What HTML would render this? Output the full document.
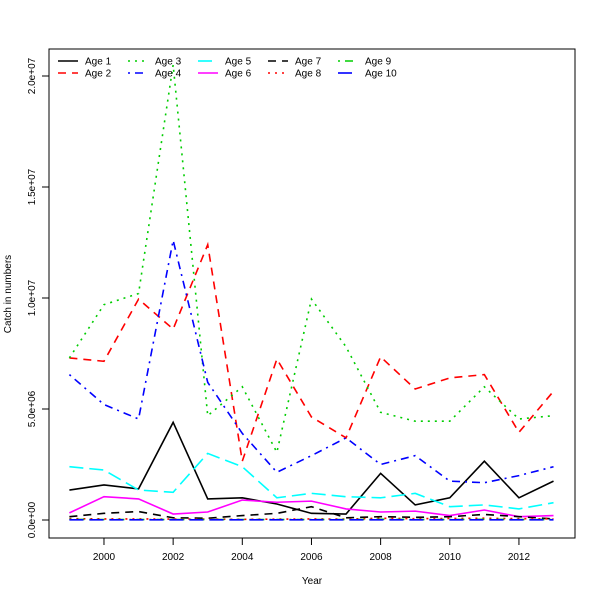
<!DOCTYPE html>
<html><head><meta charset="utf-8"><style>body{margin:0;background:#fff}svg{display:block;font-family:"Liberation Sans",sans-serif}</style></head>
<body>
<svg id="chart" width="600" height="600" xmlns="http://www.w3.org/2000/svg">
<rect width="600" height="600" fill="#fff"/>
<g id="plot"></g>
</svg>
<script>
const years = [1999,2000,2001,2002,2003,2004,2005,2006,2007,2008,2009,2010,2011,2012,2013];
const age1 = [1.35,1.58,1.4,4.4,0.95,1.0,0.72,0.3,0.27,2.1,0.68,1.0,2.65,1.0,1.75];
const age2 = [7.3,7.15,9.95,8.6,12.4,2.65,7.25,4.64,3.7,7.35,5.9,6.4,6.55,3.95,5.8];
const age3 = [7.3,9.7,10.2,20.5,4.7,6.0,3.05,9.95,7.8,4.85,4.45,4.45,6.0,4.55,4.7];
const age4 = [6.55,5.2,4.55,12.6,6.2,3.9,2.15,2.9,3.7,2.5,2.9,1.75,1.68,2.0,2.4];
const age5 = [2.4,2.25,1.35,1.25,3.0,2.4,1.0,1.2,1.05,1.0,1.2,0.6,0.68,0.5,0.78];
const age6 = [0.32,1.05,0.95,0.27,0.36,0.9,0.8,0.85,0.5,0.36,0.4,0.2,0.45,0.15,0.2];
const age7 = [0.15,0.3,0.38,0.1,0.08,0.2,0.3,0.6,0.1,0.15,0.12,0.15,0.25,0.15,0.05];
const age8 = [0.06,0.05,0.05,0.04,0.04,0.03,0.04,0.05,0.04,0.08,0.06,0.07,0.08,0.06,0.05];
const age9 = [0.03,0.02,0.02,0.02,0.02,0.02,0.02,0.02,0.02,0.03,0.02,0.02,0.03,0.02,0.02];
const age10 = [0.01,0.01,0.01,0.01,0.01,0.01,0.01,0.01,0.01,0.01,0.01,0.01,0.01,0.01,0.01];
const seriesNames = ["Age 1","Age 2","Age 3","Age 4","Age 5","Age 6","Age 7","Age 8","Age 9","Age 10"];
const xTicks = [2000,2002,2004,2006,2008,2010,2012];
const yTicks = [0,5,10,15,20];
const yTickLabels = ["0.0e+00","5.0e+06","1.0e+07","1.5e+07","2.0e+07"];

const NS="http://www.w3.org/2000/svg";
const g=document.getElementById('plot');
const X=y=>69.4+(y-1999)*34.58;
const Y=v=>520-v*22.2;
function mk(t,a){const e=document.createElementNS(NS,t);for(const k in a)e.setAttribute(k,a[k]);g.appendChild(e);return e;}
const data=[age1,age2,age3,age4,age5,age6,age7,age8,age9,age10];
const cols=["#000","#FF0000","#00CD00","#0000FF","#00FFFF","#FF00FF","#000","#FF0000","#00CD00","#0000FF"];
const dash=["","8,6","2,5","2,5,8,5","14,6","","8,6","2,5","2,5,8,5","14,6"];
const box=mk('rect',{x:49,y:49,width:526,height:489,fill:'none',stroke:'#000','stroke-width':1});

data.forEach((s,i)=>{
 const p=mk('polyline',{points:s.map((v,j)=>X(years[j])+','+Y(v)).join(' '),fill:'none',stroke:cols[i],'stroke-width':1.6,'stroke-dasharray':dash[i]});
 
 
});
xTicks.forEach(t=>{
 const l=mk('line',{x1:X(t),x2:X(t),y1:538,y2:545,stroke:'#000'});
 
 const tx=mk('text',{x:X(t),y:560,'font-size':10,'text-anchor':'middle'});tx.textContent=t;
 
});
yTicks.forEach((t,i)=>{
 const l=mk('line',{x1:42,x2:49,y1:Y(t),y2:Y(t),stroke:'#000'});
 
 const tx=mk('text',{x:35,y:Y(t),'font-size':10,'text-anchor':'middle',transform:`rotate(-90 35 ${Y(t)})`});tx.textContent=yTickLabels[i];
 
});
const xt=mk('text',{x:312,y:584,'font-size':10,'text-anchor':'middle'});xt.textContent='Year';

const yt=mk('text',{x:11,y:294,'font-size':10,'text-anchor':'middle',transform:'rotate(-90 11 294)'});yt.textContent='Catch in numbers';

seriesNames.forEach((n,i)=>{
 const c=Math.floor(i/2),r=i%2;const lx=58+c*70,ly=61+r*12;
 const l=mk('line',{x1:lx,x2:lx+20,y1:ly,y2:ly,stroke:cols[i],'stroke-width':1.6,'stroke-dasharray':dash[i]});
 
 const t=mk('text',{x:lx+27,y:ly+3.5,'font-size':10});t.textContent=n;
 
});
</script>
</body></html>
